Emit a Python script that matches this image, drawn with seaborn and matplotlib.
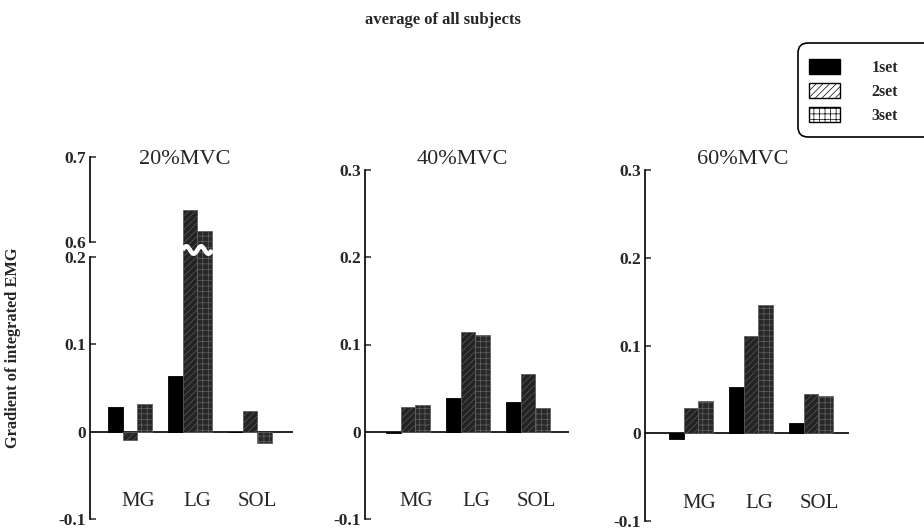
import numpy as np
import pandas as pd
import matplotlib
matplotlib.use("Agg")
import matplotlib.pyplot as plt
import matplotlib.transforms as mtransforms
from matplotlib.patches import Patch, FancyBboxPatch
import seaborn as sns

# ---------------- data ----------------
muscles = ["MG", "LG", "SOL"]
sets = ["1set", "2set", "3set"]
panel_titles = ["20%MVC", "40%MVC", "60%MVC"]

mvc20_set1 = [0.028, 0.064, -0.001]
mvc20_set2 = [-0.010, 0.637, 0.023]
mvc20_set3 = [0.031, 0.613, -0.013]

mvc40_set1 = [-0.002, 0.039, 0.0345]
mvc40_set2 = [0.028, 0.114, 0.066]
mvc40_set3 = [0.031, 0.111, 0.027]

mvc60_set1 = [-0.006, 0.053, 0.012]
mvc60_set2 = [0.029, 0.111, 0.045]
mvc60_set3 = [0.037, 0.146, 0.042]


def make_df(s1, s2, s3):
    rows = []
    for sname, vals in zip(sets, [s1, s2, s3]):
        for m, v in zip(muscles, vals):
            rows.append({"muscle": m, "set": sname, "value": v})
    return pd.DataFrame(rows)


df20 = make_df(mvc20_set1, mvc20_set2, mvc20_set3)
df40 = make_df(mvc40_set1, mvc40_set2, mvc40_set3)
df60 = make_df(mvc60_set1, mvc60_set2, mvc60_set3)

# ---------------- style ----------------
sns.set_theme(style="white")
SERIF = ["Liberation Serif", "DejaVu Serif"]
plt.rcParams["font.family"] = SERIF
plt.rcParams["hatch.linewidth"] = 0.5
plt.rcParams["axes.linewidth"] = 1.2

W, H = 924, 530
fig = plt.figure(figsize=(W / 100, H / 100), dpi=100)

bar_fill = ["#000000", "#232323", "#282828"]
bar_edge = ["#000000", "#5c5c5c", "#626262"]
bar_hatch = ["", "/////", "+++"]


def ax_rect(left, top, right, bottom):
    return [left / W, 1 - bottom / H, (right - left) / W, (bottom - top) / H]


def draw_bars(ax, df):
    sns.barplot(data=df, x="muscle", y="value", hue="set", order=muscles,
                hue_order=sets, palette=bar_fill, saturation=1, width=0.735,
                errorbar=None, legend=False, ax=ax, linewidth=0.6)
    for cont, ec, hatch in zip(ax.containers, bar_edge, bar_hatch):
        for p in cont:
            p.set_edgecolor(ec)
            p.set_hatch(hatch)
    ax.set_xlabel("")
    ax.set_ylabel("")


def style_y(ax, ticks, labels, bounds):
    ax.set_yticks(ticks, labels)
    ax.tick_params(axis="y", direction="in", length=4, width=1.1, pad=3,
                   labelsize=12.5, left=True)
    for t in ax.get_yticklabels():
        t.set_fontweight("bold")
    ax.spines["left"].set_bounds(*bounds)
    ax.spines["left"].set_color("black")


def style_x(ax):
    ax.set_xticks(np.arange(len(muscles)) + 0.13, muscles)
    ax.spines["bottom"].set_position(("data", -0.066))
    ax.tick_params(axis="x", length=0, pad=2, labelsize=15, bottom=True)


def finish(ax, xlim):
    sns.despine(ax=ax, bottom=True)
    ax.set_xlim(*xlim)
    ax.axhline(0, color="black", lw=1.2, zorder=0.5)


# ---------- panel 1 (broken axis) ----------
ax1_hi = fig.add_axes(ax_rect(90, 157, 293, 250))
ax1_lo = fig.add_axes(ax_rect(90, 250, 293, 519))
ax1_lo.set_zorder(3)
ax1_lo.patch.set_alpha(0)
xl1 = (-0.667, 2.717)
draw_bars(ax1_lo, df20)
finish(ax1_lo, xl1)
ax1_lo.set_ylim(-0.1, 0.2077)
style_y(ax1_lo, [-0.1, 0, 0.1, 0.2], ["-0.1", "0", "0.1", "0.2"], (-0.1, 0.2))
style_x(ax1_lo)

draw_bars(ax1_hi, df20)
sns.despine(ax=ax1_hi, bottom=True)
ax1_hi.set_xlim(*xl1)
ax1_hi.set_ylim(0.590, 0.7)
style_y(ax1_hi, [0.6, 0.7], ["0.6", "0.7"], (0.6, 0.7))
ax1_hi.set_xticks([])

# white wavy break across the tall LG bars
x0, bw = 1 - 0.735 / 6, 0.735 / 3
xs = np.linspace(x0, x0 + 2 * bw, 200)
ys = 1.0 + 0.014 * np.sin(2 * np.pi * (xs - x0) / bw)
tr = mtransforms.blended_transform_factory(ax1_lo.transData, ax1_lo.transAxes)
ax1_lo.plot(xs, ys, color="white", lw=3.2, transform=tr, clip_on=False, zorder=10,
            solid_capstyle="butt")

# ---------- panel 2 ----------
ax2 = fig.add_axes(ax_rect(365, 170, 569, 519))
draw_bars(ax2, df40)
finish(ax2, (-0.717, 2.683))
ax2.set_ylim(-0.1, 0.3)
style_y(ax2, [-0.1, 0, 0.1, 0.2, 0.3], ["-0.1", "0", "0.1", "0.2", "0.3"], (-0.1, 0.3))
style_x(ax2)

# ---------- panel 3 ----------
ax3 = fig.add_axes(ax_rect(645, 170, 849, 521))
draw_bars(ax3, df60)
finish(ax3, (-0.767, 2.633))
ax3.set_ylim(-0.1, 0.3)
style_y(ax3, [-0.1, 0, 0.1, 0.2, 0.3], ["-0.1", "0", "0.1", "0.2", "0.3"], (-0.1, 0.3))
style_x(ax3)

# ---------- titles / labels ----------
for title, xc in zip(panel_titles, [185, 462, 743]):
    fig.text(xc / W, 1 - 160 / H, title, ha="center", va="center", fontsize=16)

fig.text(443 / W, 1 - 20 / H, "average of all subjects", ha="center", va="center",
         fontsize=12, fontweight="bold")
fig.text(13 / W, 1 - 348 / H, "Gradient of integrated EMG", rotation=90,
         ha="center", va="center", fontsize=11.8, fontweight="bold")

# ---------- legend ----------
handles = [
    Patch(facecolor="black", edgecolor="black", label=sets[0]),
    Patch(facecolor="white", edgecolor="black", hatch="/////", label=sets[1]),
    Patch(facecolor="white", edgecolor="black", hatch="+++", label=sets[2]),
]
fig.legend(handles=handles, labels=sets, loc="upper left",
           bbox_to_anchor=(798 / W, 1 - 48 / H), frameon=False, borderaxespad=0,
           borderpad=0.7, handlelength=1.95, handleheight=1.06, handletextpad=1.95,
           labelspacing=0.45, prop={"family": SERIF, "weight": "bold", "size": 11.5})
frame = FancyBboxPatch((798, H - 137), 150, 94,
                       boxstyle="round,pad=0,rounding_size=10",
                       transform=mtransforms.IdentityTransform(),
                       fill=False, edgecolor="black", lw=1.2)
fig.add_artist(frame)

fig.savefig("out.png", dpi=100)
